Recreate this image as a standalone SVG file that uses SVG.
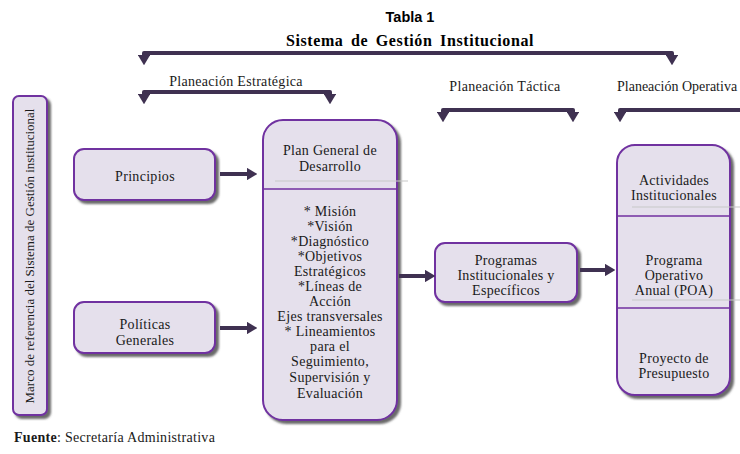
<svg xmlns="http://www.w3.org/2000/svg" width="740" height="454" viewBox="0 0 740 454">
<style>
.box{fill:#E5E0EC;stroke:#7030A0;stroke-width:2;filter:url(#sh)}
.t{font-family:"Liberation Serif","Times New Roman",serif;font-size:14px;letter-spacing:0.3px;fill:#1a1a1a;text-anchor:middle}
.br{fill:none;stroke:#3F3151;stroke-width:4;stroke-linejoin:round;marker-start:url(#tri);marker-end:url(#tri)}
.ar{fill:none;stroke:#3F3151;stroke-width:4;marker-end:url(#ah)}
.dv{stroke:#7030A0;stroke-width:1.5}
.gl{stroke:#C8C8C8;stroke-width:1.2}
</style>
<defs>
<filter id="sh" x="-20%" y="-20%" width="140%" height="140%">
<feDropShadow dx="3" dy="3" stdDeviation="1" flood-color="#5a5a5a" flood-opacity="0.9"/>
</filter>
<marker id="tri" viewBox="0 0 10 12" refX="2" refY="6" markerWidth="2.6" markerHeight="3.1" orient="auto-start-reverse" markerUnits="strokeWidth">
<path d="M0,0 L10,6 L0,12 z" fill="#3F3151"/>
</marker>
<marker id="ah" viewBox="0 0 10 12" refX="1" refY="6" markerWidth="2.6" markerHeight="3.1" orient="auto" markerUnits="strokeWidth">
<path d="M0,0 L10,6 L0,12 z" fill="#3F3151"/>
</marker>
</defs>

<g id="title">
<text x="410" y="22" text-anchor="middle" style="font-family:'Liberation Sans',Arial,sans-serif;font-size:14.5px;font-weight:bold;fill:#000">Tabla 1</text>
<text x="410" y="46" text-anchor="middle" style="font-family:'Liberation Serif','Times New Roman',serif;font-size:16px;letter-spacing:0.6px;word-spacing:3px;font-weight:bold;fill:#000">Sistema de Gestión Institucional</text>
</g>

<g id="brackets">
<path class="br" d="M144,57 L144,53 L672,53 L672,57"/>
<text class="t" x="236" y="86">Planeación Estratégica</text>
<path class="br" d="M144,96 L144,92 L330,92 L330,96"/>
<text class="t" x="505" y="91">Planeación Táctica</text>
<path class="br" d="M443,114 L443,110 L573,110 L573,114"/>
<text class="t" x="617" y="91" style="text-anchor:start;letter-spacing:0">Planeación Operativa</text>
<path class="br" d="M620,114 L620,110 L760,110"/>
</g>

<g id="marco">
<rect class="box" x="13" y="96" width="34" height="319" rx="6"/>
<text class="t" transform="translate(34,256) rotate(-90)" style="font-size:13px;letter-spacing:0">Marco de referencia del Sistema de Gestión institucional</text>
</g>

<g id="principios">
<rect class="box" x="74" y="149" width="141" height="51" rx="10"/>
<text class="t" x="145" y="181">Principios</text>
</g>

<g id="politicas">
<rect class="box" x="74" y="302" width="141" height="51" rx="10"/>
<text class="t" x="145" y="329">Políticas</text>
<text class="t" x="145" y="345">Generales</text>
</g>

<g id="plan">
<rect class="box" x="263" y="120" width="134" height="300" rx="20"/>
<line class="gl" x1="275" y1="181" x2="408" y2="181"/>
<line class="dv" x1="263" y1="189" x2="397" y2="189"/>
<text class="t" x="330" y="155">Plan General de</text>
<text class="t" x="330" y="171">Desarrollo</text>
<text class="t" x="330" y="216">* Misión</text>
<text class="t" x="330" y="231">*Visión</text>
<text class="t" x="330" y="246">*Diagnóstico</text>
<text class="t" x="330" y="261">*Objetivos</text>
<text class="t" x="330" y="276">Estratégicos</text>
<text class="t" x="330" y="291">*Líneas de</text>
<text class="t" x="330" y="306">Acción</text>
<text class="t" x="330" y="321">Ejes transversales</text>
<text class="t" x="330" y="336">* Lineamientos</text>
<text class="t" x="330" y="351">para el</text>
<text class="t" x="330" y="366">Seguimiento,</text>
<text class="t" x="330" y="382">Supervisión y</text>
<text class="t" x="330" y="398">Evaluación</text>
</g>

<g id="programas">
<rect class="box" x="435" y="243" width="142" height="59" rx="10"/>
<text class="t" x="506" y="265">Programas</text>
<text class="t" x="506" y="280">Institucionales y</text>
<text class="t" x="506" y="295">Específicos</text>
</g>

<g id="operativa">
<rect class="box" x="617" y="145" width="113" height="250" rx="18"/>
<line class="gl" x1="632" y1="207" x2="740" y2="207"/>
<line class="dv" x1="617" y1="216" x2="730" y2="216"/>
<line class="gl" x1="632" y1="300" x2="740" y2="300"/>
<line class="dv" x1="617" y1="308" x2="730" y2="308"/>
<text class="t" x="674" y="185">Actividades</text>
<text class="t" x="674" y="200">Institucionales</text>
<text class="t" x="674" y="265">Programa</text>
<text class="t" x="674" y="280">Operativo</text>
<text class="t" x="674" y="295">Anual (POA)</text>
<text class="t" x="674" y="363">Proyecto de</text>
<text class="t" x="674" y="378">Presupuesto</text>
</g>

<g id="connectors">
<path class="ar" d="M220,174 L248,174"/>
<path class="ar" d="M220,328 L248,328"/>
<path class="ar" d="M399,276 L426,276"/>
<path class="ar" d="M580,270 L606,270"/>
</g>

<g id="fuente">
<text x="14" y="442" style="font-family:'Liberation Serif','Times New Roman',serif;font-size:14px;letter-spacing:0.3px;fill:#1a1a1a"><tspan font-weight="bold">Fuente</tspan>: Secretaría Administrativa</text>
</g>
</svg>
